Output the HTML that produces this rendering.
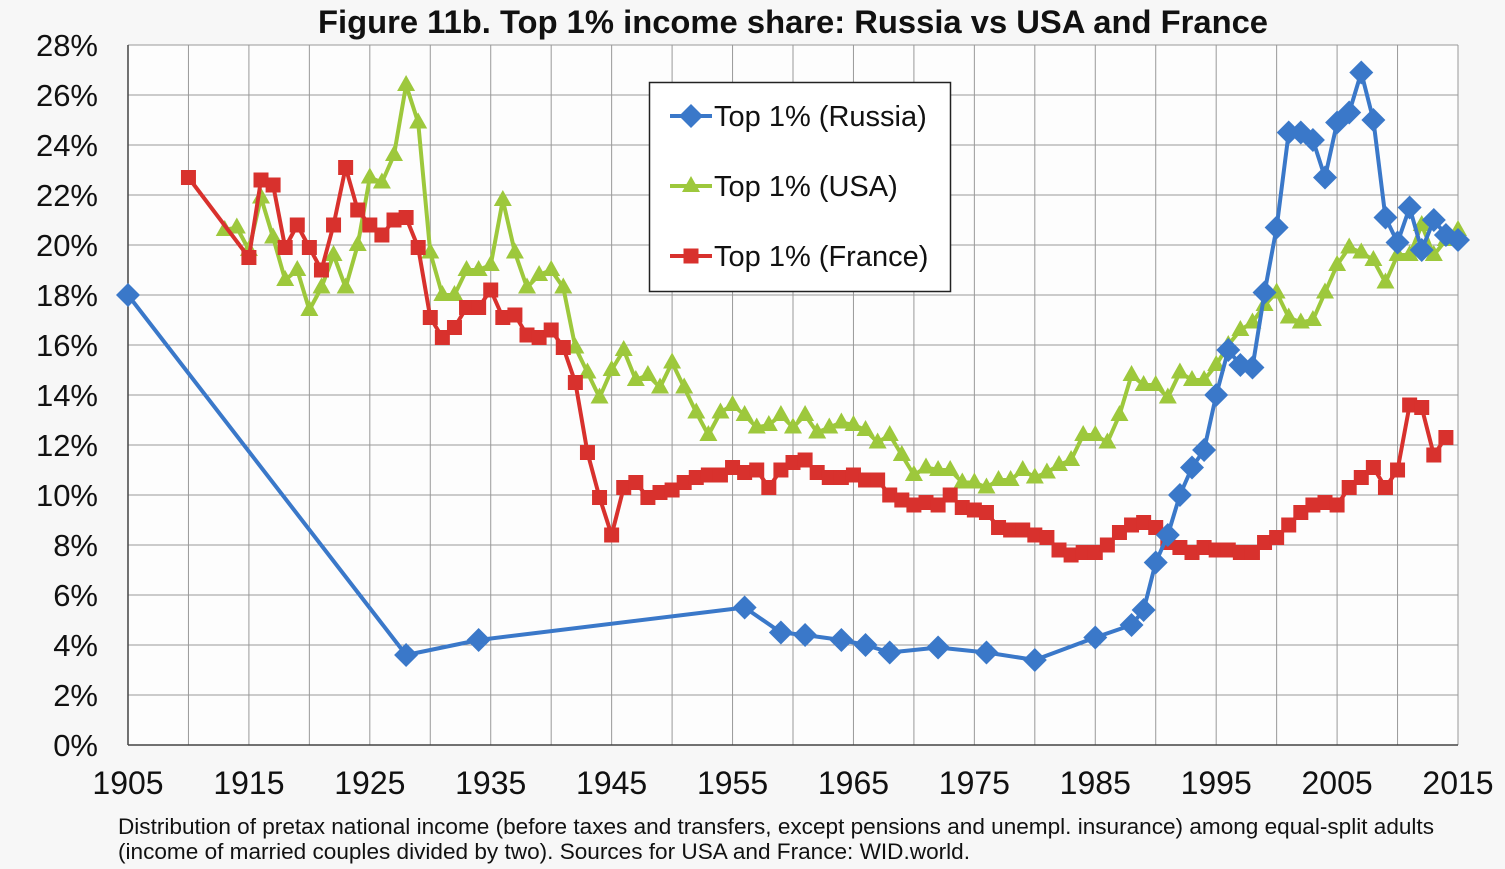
<!DOCTYPE html>
<html><head><meta charset="utf-8"><style>
html,body{margin:0;padding:0;background:#f7f7f7;}
svg{display:block;font-family:"Liberation Sans",Arial,sans-serif;}
</style></head><body>
<svg id="c" width="1505" height="869" xmlns="http://www.w3.org/2000/svg">
<rect width="1505" height="869" fill="#f7f7f7"/>
<rect x="128" y="45" width="1330" height="700" fill="#fdfdfd"/>
<g id="grid"></g>
<g id="series"></g>
<text x="793" y="33" text-anchor="middle" font-size="32" font-weight="bold" fill="#111" textLength="950" lengthAdjust="spacingAndGlyphs">Figure 11b. Top 1% income share: Russia vs USA and France</text>
<g id="labels" font-size="31" fill="#111"></g>
<rect x="649.5" y="82.5" width="301" height="209" fill="#fff" stroke="#222" stroke-width="1.5"/>
<g id="legend" font-size="29" fill="#111"></g>
<text x="118" y="834" font-size="22" fill="#111" textLength="1316" lengthAdjust="spacingAndGlyphs">Distribution of pretax national income (before taxes and transfers, except pensions and unempl. insurance) among equal-split adults</text>
<text x="118" y="859" font-size="22" fill="#111" textLength="852" lengthAdjust="spacingAndGlyphs">(income of married couples divided by two). Sources for USA and France: WID.world.</text>
</svg>
<script>
const NS="http://www.w3.org/2000/svg";
const X=y=>128+(y-1905)*1330/110, Y=v=>745-v*25;
function el(p,t,a,txt){const e=document.createElementNS(NS,t);for(const k in a)e.setAttribute(k,a[k]);if(txt!==undefined)e.textContent=txt;p.appendChild(e);return e;}
const g=document.getElementById('grid'),L=document.getElementById('labels');
for(let v=0;v<=28;v+=2){el(g,'line',{x1:128,x2:1458,y1:Y(v),y2:Y(v),stroke:'#999','stroke-width':1});
 el(L,'text',{x:98,y:Y(v)+11,'text-anchor':'end'},v+'%');}
for(let y=1905;y<=2015;y+=5){el(g,'line',{x1:X(y),x2:X(y),y1:45,y2:745,stroke:'#999','stroke-width':1});}
for(let y=1905;y<=2015;y+=10)el(L,'text',{x:X(y),y:794,'text-anchor':'middle','font-size':32},y);
el(g,'line',{x1:128,x2:128,y1:45,y2:745,stroke:'#444','stroke-width':1.5});
el(g,'line',{x1:128,x2:1458,y1:745,y2:745,stroke:'#444','stroke-width':1.5});
const R=[[1905,18],[1928,3.6],[1934,4.2],[1956,5.5],[1959,4.5],[1961,4.4],[1964,4.2],[1966,4.0],[1968,3.7],[1972,3.9],[1976,3.7],[1980,3.4],[1985,4.3],[1988,4.8],[1989,5.4],[1990,7.3],[1991,8.4],[1992,10.0],[1993,11.1],[1994,11.8],[1995,14.0],[1996,15.8],[1997,15.2],[1998,15.1],[1999,18.1],[2000,20.7],[2001,24.5],[2002,24.5],[2003,24.2],[2004,22.7],[2005,24.9],[2006,25.3],[2007,26.9],[2008,25.0],[2009,21.1],[2010,20.1],[2011,21.5],[2012,19.8],[2013,21.0],[2014,20.4],[2015,20.2]];
const U=[20.6,20.7,19.8,21.9,20.3,18.6,19.0,17.4,18.3,19.6,18.3,20.0,22.7,22.5,23.6,26.4,24.9,19.7,18.0,18.0,19.0,19.0,19.2,21.8,19.7,18.3,18.8,19.0,18.3,15.9,14.9,13.9,15.0,15.8,14.6,14.8,14.3,15.3,14.3,13.3,12.4,13.3,13.6,13.2,12.7,12.8,13.2,12.7,13.2,12.5,12.7,12.9,12.8,12.6,12.1,12.4,11.6,10.8,11.1,11.0,11.0,10.5,10.5,10.3,10.6,10.6,11.0,10.7,10.9,11.2,11.4,12.4,12.4,12.1,13.2,14.8,14.4,14.4,13.9,14.9,14.6,14.6,15.2,16.0,16.6,16.9,17.6,18.1,17.1,16.9,17.0,18.1,19.2,19.9,19.7,19.4,18.5,19.6,19.6,20.8,19.6,20.2,20.6].map((v,i)=>[1913+i,v]);
const Fv=[19.5,22.6,22.4,19.9,20.8,19.9,19.0,20.8,23.1,21.4,20.8,20.4,21.0,21.1,19.9,17.1,16.3,16.7,17.5,17.5,18.2,17.1,17.2,16.4,16.3,16.6,15.9,14.5,11.7,9.9,8.4,10.3,10.5,9.9,10.1,10.2,10.5,10.7,10.8,10.8,11.1,10.9,11.0,10.3,11.0,11.3,11.4,10.9,10.7,10.7,10.8,10.6,10.6,10.0,9.8,9.6,9.7,9.6,10.0,9.5,9.4,9.3,8.7,8.6,8.6,8.4,8.3,7.8,7.6,7.7,7.7,8.0,8.5,8.8,8.9,8.7,8.1,7.9,7.7,7.9,7.8,7.8,7.7,7.7,8.1,8.3,8.8,9.3,9.6,9.7,9.6,10.3,10.7,11.1,10.3,11.0,13.6,13.5,11.6,12.3];
const F=[[1910,22.7]].concat(Fv.map((v,i)=>[1915+i,v]));
const S=document.getElementById('series');
function mk(p,t,x,y,c){
 if(t=='d')el(p,'polygon',{points:`${x},${y-12} ${x+12},${y} ${x},${y+12} ${x-12},${y}`,fill:c});
 else if(t=='s')el(p,'rect',{x:x-7.5,y:y-7.5,width:15,height:15,fill:c});
 else el(p,'polygon',{points:`${x},${y-10} ${x+9},${y+6} ${x-9},${y+6}`,fill:c});}
function draw(d,c,t){el(S,'polyline',{points:d.map(p=>X(p[0])+','+Y(p[1])).join(' '),fill:'none',stroke:c,'stroke-width':4,'stroke-linejoin':'round'});
 d.forEach(p=>mk(S,t,X(p[0]),Y(p[1]),c));}
draw(U,'#9dc83c','t');draw(F,'#d8312d','s');draw(R,'#3a78c9','d');
const lg=document.getElementById('legend');
[['Top 1% (Russia)','#3a78c9','d',116],['Top 1% (USA)','#9dc83c','t',186],['Top 1% (France)','#d8312d','s',256]].forEach(a=>{
 el(lg,'line',{x1:670,x2:712,y1:a[3],y2:a[3],stroke:a[1],'stroke-width':4});mk(lg,a[2],691,a[3],a[1]);
 el(lg,'text',{x:714,y:a[3]+10},a[0]);});
</script>
</body></html>
